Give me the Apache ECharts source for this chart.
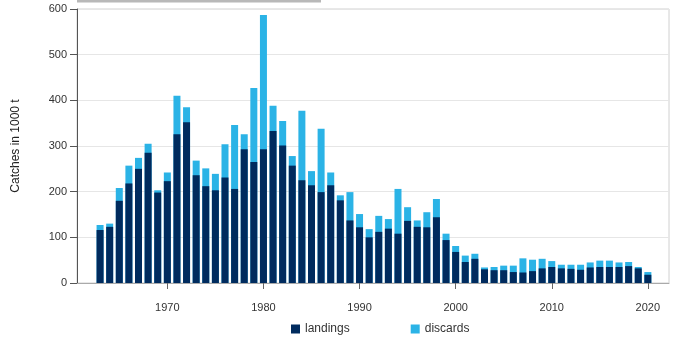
<!DOCTYPE html>
<html>
<head>
<meta charset="utf-8">
<script src="https://cdn.jsdelivr.net/npm/echarts@6/dist/echarts.min.js"></script>
<style>
html, body { margin: 0; padding: 0; background: #fff; }
#chart { width: 686px; height: 346px; }
</style>
</head>
<body>
<div id="chart"></div>
<script>
var years = [];
for (var y = 1963; y <= 2020; y++) years.push(y);

var landings = [116,123,180,218,250,285,198,223,326,352,
                236,212,203,231,206,293,265,293,333,301,
                257,225,214,199,214,181,137,122,100,112,
                119,108,136,123,122,144,94,68,46,53,
                30,28,28,24,23,26,32,35,32,31,
                29,34,35,35,35,37,32,18];
var discards = [11,7,28,39,24,20,5,19,84,33,
                32,39,36,73,140,33,162,294,55,54,
                21,152,31,139,28,11,62,29,18,35,
                21,98,30,14,33,40,14,13,14,11,
                4,7,10,14,31,25,21,13,8,9,
                11,11,14,14,10,9,3,6];
var xTicks = [1970, 1980, 1990, 2000, 2010, 2020];

// the year axis is numeric, so discards are drawn as total bars behind landings
var landingPts = years.map(function (yr, i) { return [yr, landings[i]]; });
var totalPts = years.map(function (yr, i) { return [yr, landings[i] + discards[i]]; });

var option = {
    animation: false,
    grid: {
        left: 77,
        right: 17,
        top: 9,
        bottom: 63,
        show: true,
        borderColor: '#d0d0d0',
        borderWidth: 1
    },
    graphic: [{
        type: 'rect',
        shape: { x: 77, y: 0, width: 244, height: 2.5 },
        style: { fill: '#b8b8b8' },
        silent: true
    }],
    legend: {
        left: 286,
        top: 318,
        itemWidth: 9,
        itemHeight: 9,
        itemGap: 61,
        icon: 'rect',
        textStyle: { color: '#333', fontSize: 12, fontFamily: 'Liberation Sans' },
        data: ['landings', 'discards']
    },
    xAxis: {
        type: 'value',
        min: 1960.6,
        max: 2022.2,
        splitLine: { show: false },
        axisLine: { show: true, lineStyle: { color: '#aaa' } },
        axisTick: { show: true, length: 6, customValues: xTicks, lineStyle: { color: '#666' } },
        axisLabel: {
            customValues: xTicks,
            formatter: function (v) { return String(v); },
            margin: 19,
            color: '#333',
            fontSize: 11,
            fontFamily: 'Liberation Sans'
        }
    },
    yAxis: {
        type: 'value',
        min: 0,
        max: 600,
        interval: 100,
        name: 'Catches in 1000 t',
        nameLocation: 'middle',
        nameGap: 55,
        nameTextStyle: { color: '#222', fontSize: 12, fontFamily: 'Liberation Sans' },
        axisLine: { show: true, lineStyle: { color: '#555' } },
        axisTick: { show: true, length: 7, lineStyle: { color: '#555' } },
        axisLabel: { color: '#333', fontSize: 11, margin: 10, fontFamily: 'Liberation Sans' },
        splitLine: { lineStyle: { color: '#e6e6e6' } }
    },
    series: [{
        name: 'landings',
        type: 'bar',
        barWidth: 7,
        barGap: '-100%',
        z: 3,
        itemStyle: { color: '#002b5e' },
        data: landingPts
    }, {
        name: 'discards',
        type: 'bar',
        barWidth: 7,
        barGap: '-100%',
        z: 2,
        itemStyle: { color: '#2bb3e6' },
        data: totalPts
    }]
};

var chart = echarts.init(document.getElementById('chart'));
chart.setOption(option);
</script>
</body>
</html>
